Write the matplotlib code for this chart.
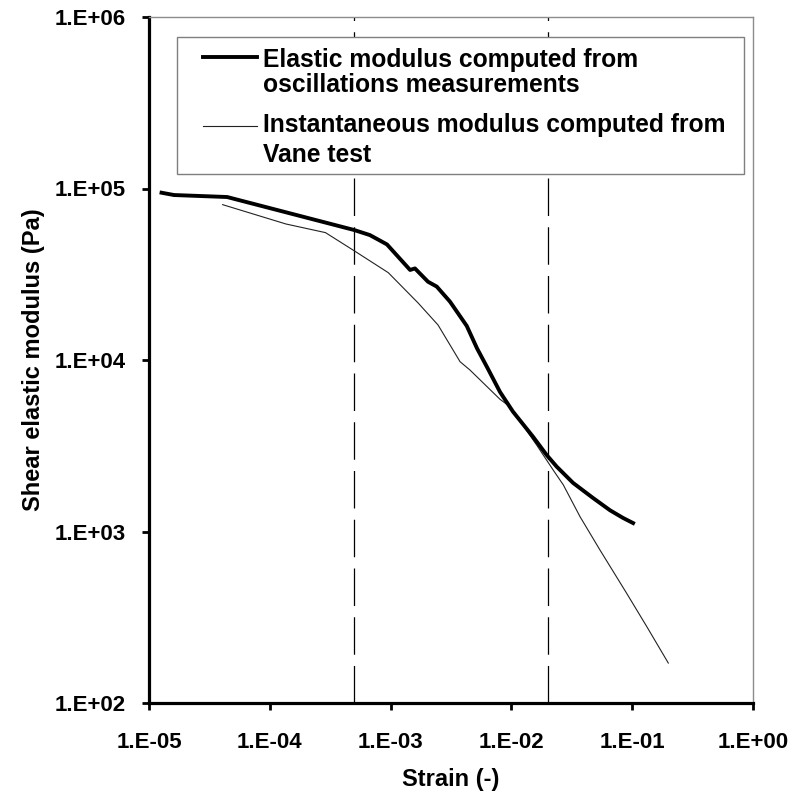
import numpy as np
import matplotlib
matplotlib.use('agg')
import matplotlib.pyplot as plt
from matplotlib.patches import Rectangle
from matplotlib.lines import Line2D

plt.rcParams['font.family'] = ['Liberation Sans', 'DejaVu Sans']
plt.rcParams['font.weight'] = 'bold'

# oscillation measurements (thick line)
osc_strain = [1.27e-5, 1.61e-5, 4.43e-5, 4.98e-4, 6.74e-4, 9.33e-4, 1.45e-3, 1.59e-3,
              2.04e-3, 2.41e-3, 3.10e-3, 4.27e-3, 5.19e-3, 6.28e-3, 8.05e-3, 1.03e-2,
              1.51e-2, 1.96e-2, 2.37e-2, 3.24e-2, 4.73e-2, 6.55e-2, 8.39e-2, 1.017e-1]
osc_modulus = [9.45e4, 9.16e4, 8.92e4, 5.73e4, 5.35e4, 4.72e4, 3.35e4, 3.42e4,
               2.86e4, 2.68e4, 2.19e4, 1.58e4, 1.17e4, 9.10e3, 6.51e3, 5.00e3,
               3.57e3, 2.79e3, 2.39e3, 1.92e3, 1.57e3, 1.33e3, 1.20e3, 1.12e3]

# vane test (thin line)
vane_strain = [4.07e-5, 1.36e-4, 2.89e-4, 4.98e-4, 9.57e-4, 1.69e-3, 2.47e-3, 3.76e-3,
               4.54e-3, 8.05e-3, 9.73e-3, 1.62e-2, 2.22e-2, 2.69e-2, 3.70e-2, 5.41e-2,
               9.00e-2, 1.32e-1, 1.99e-1]
vane_modulus = [8.05e4, 6.21e4, 5.53e4, 4.34e4, 3.23e4, 2.15e4, 1.60e4, 9.77e3,
                8.74e3, 5.90e3, 5.34e3, 3.19e3, 2.28e3, 1.87e3, 1.22e3, 780,
                436, 279, 171]

limits_strain = [5e-4, 2e-2]

x_ticks = [1e-5, 1e-4, 1e-3, 1e-2, 1e-1, 1e0]
x_labels = ['1.E-05', '1.E-04', '1.E-03', '1.E-02', '1.E-01', '1.E+00']
y_ticks = [1e2, 1e3, 1e4, 1e5, 1e6]
y_labels = ['1.E+02', '1.E+03', '1.E+04', '1.E+05', '1.E+06']

legend_lines = [("Elastic modulus computed from", "oscillations measurements"),
                ("Instantaneous modulus computed from", "Vane test")]

fig = plt.figure(figsize=(7.97, 7.98), dpi=100)
ax = fig.add_axes([149 / 797, 95 / 798, 604 / 797, 686 / 798])

ax.set_xscale('log')
ax.set_yscale('log')
ax.set_xlim(1e-5, 1e0)
ax.set_ylim(1e2, 1e6)

for xv in limits_strain:
    ax.axvline(xv, color='black', lw=0.9, dashes=(30, 9), zorder=1)

ax.plot(osc_strain, osc_modulus, color='black', lw=2.8, zorder=3)
ax.plot(vane_strain, vane_modulus, color='#222222', lw=0.8, zorder=2)

ax.set_xticks(x_ticks)
ax.set_xticklabels(x_labels)
ax.set_yticks(y_ticks)
ax.set_yticklabels(y_labels)
ax.minorticks_off()
ax.tick_params(axis='both', direction='out', length=5, width=2, labelsize=16)
ax.tick_params(axis='x', pad=16)
ax.tick_params(axis='y', pad=12)

for side in ['left', 'bottom']:
    ax.spines[side].set_linewidth(2.3)
    ax.spines[side].set_color('black')
for side in ['top', 'right']:
    ax.spines[side].set_linewidth(1.0)
    ax.spines[side].set_color('#8c8c8c')

ax.set_xlabel('Strain (-)', fontsize=17, fontweight='bold', labelpad=11)
ax.set_ylabel('Shear elastic modulus (Pa)', fontsize=17, fontweight='bold', labelpad=7)

# legend box, built by hand so the handles sit on the first text line
ax.add_patch(Rectangle((0.046, 0.771), 0.939, 0.2, transform=ax.transAxes,
                       facecolor='white', edgecolor='#7f7f7f', lw=1.0, zorder=5))
ax.add_line(Line2D([0.089, 0.179], [0.942, 0.942], transform=ax.transAxes,
                   color='black', lw=2.8, zorder=6))
ax.add_line(Line2D([0.089, 0.179], [0.841, 0.841], transform=ax.transAxes,
                   color='#222222', lw=0.8, zorder=6))
baselines = [(0.927, 0.891), (0.832, 0.789)]
for (l1, l2), (b1, b2) in zip(legend_lines, baselines):
    ax.text(0.189, b1, l1, transform=ax.transAxes, fontsize=17.7, fontweight='bold',
            va='baseline', ha='left', zorder=7)
    ax.text(0.189, b2, l2, transform=ax.transAxes, fontsize=17.7, fontweight='bold',
            va='baseline', ha='left', zorder=7)

fig.savefig('out.png', dpi=100)
